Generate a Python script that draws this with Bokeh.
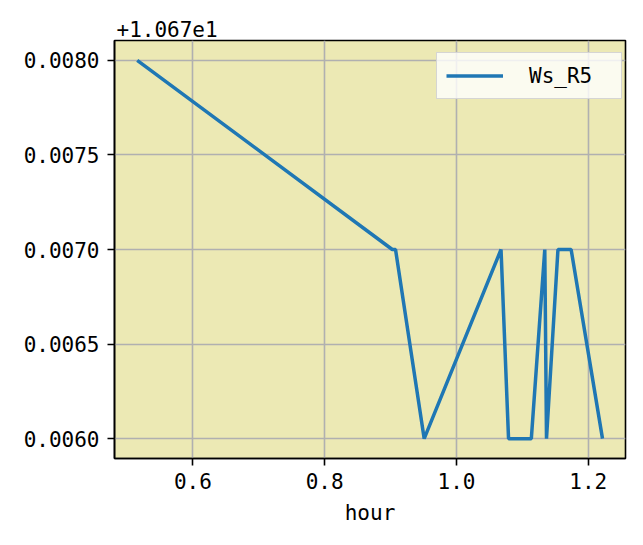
from bokeh.plotting import figure
from bokeh.models import Range1d, SingleIntervalTicker, PrintfTickFormatter, Legend, LegendItem
from bokeh.embed import file_html
from bokeh.resources import INLINE

# data
hours = [0.5155, 0.9026, 0.9075, 0.951, 1.0676, 1.079, 1.1136, 1.134, 1.1366, 1.154, 1.174, 1.2216]
ws_r5 = [10.678, 10.677, 10.677, 10.676, 10.677, 10.676, 10.676, 10.677, 10.676, 10.677, 10.677, 10.676]
OFFSET = 10.67
offset_label = "+1.067e1"
series_name = "Ws_R5"
x_label = "hour"

FONT = "DejaVu Sans Mono"
y_plot = [v - OFFSET for v in ws_r5]

p = figure(width=627, height=529, output_backend="svg", toolbar_location=None,
           x_range=Range1d(0.481, 1.2565), y_range=Range1d(0.005895, 0.008105),
           min_border_left=114, min_border_right=2, min_border_top=40, min_border_bottom=71,
           title=offset_label)

p.background_fill_color = "#ECE9B4"
p.border_fill_color = "white"
p.outline_line_color = "black"
p.outline_line_width = 1.6

p.title.text_font = FONT
p.title.text_font_size = "21px"
p.title.text_font_style = "normal"
p.title.text_color = "black"
p.title.align = "left"
p.title.offset = 2
p.title.standoff = 8

r = p.line(hours, y_plot, line_color="#1f77b4", line_width=3.5)

p.xaxis.ticker = SingleIntervalTicker(interval=0.2)
p.xaxis.formatter = PrintfTickFormatter(format="%.1f")
p.yaxis.ticker = SingleIntervalTicker(interval=0.0005)
p.yaxis.formatter = PrintfTickFormatter(format="%.4f")

for ax in (p.xaxis[0], p.yaxis[0]):
    ax.axis_line_color = "black"
    ax.axis_line_width = 1.6
    ax.major_tick_line_color = "black"
    ax.major_tick_line_width = 1.6
    ax.major_tick_out = 7
    ax.major_tick_in = 0
    ax.minor_tick_line_color = None
    ax.major_label_text_font = FONT
    ax.major_label_text_font_size = "21px"
    ax.major_label_text_color = "black"
    ax.axis_label_text_font = FONT
    ax.axis_label_text_font_size = "21px"
    ax.axis_label_text_font_style = "normal"
    ax.axis_label_text_color = "black"

p.xaxis.major_label_standoff = 7
p.yaxis.major_label_standoff = 8
p.xaxis.axis_label = x_label
p.xaxis.axis_label_standoff = 9

p.grid.grid_line_color = "#b0b0b0"
p.grid.grid_line_width = 1.6

legend = Legend(items=[LegendItem(label=series_name, renderers=[r])], location=(322, 359))
legend.label_text_font = FONT
legend.label_text_font_size = "21px"
legend.label_text_color = "black"
legend.glyph_width = 57
legend.glyph_height = 27
legend.label_height = 27
legend.label_width = 83
legend.label_standoff = 26
legend.padding = 9
legend.margin = 0
legend.background_fill_color = "white"
legend.background_fill_alpha = 0.8
legend.border_line_color = "#cccccc"
legend.border_line_alpha = 0.8
legend.border_line_width = 1.5
p.add_layout(legend)

open("out.html", "w").write(file_html(p, INLINE))
